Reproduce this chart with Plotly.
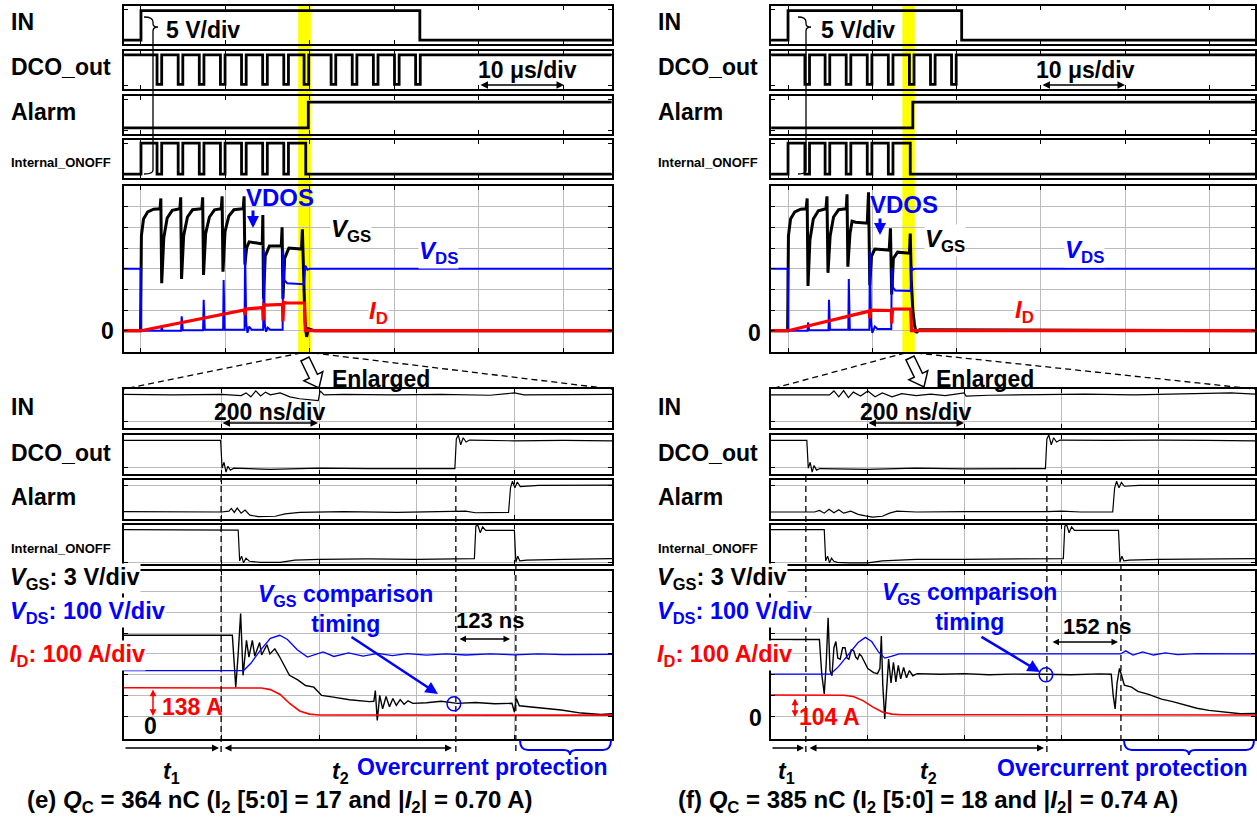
import math
import plotly.graph_objects as go

W, H = 1257, 819
FONT = "Liberation Sans, Arial, sans-serif"
BLACK, BLUE, RED, YELLOW, GRID = "#000000", "#0000ff", "#ff0000", "#ffff00", "#bcbcbc"

# ======================= DATA =======================
channels = ["IN", "DCO_out", "Alarm", "Internal_ONOFF"]

# ---------- panel (e), 10 us/div (time in us; digital in box fraction, analog in div) ----------
e_top_in_t = [-2.0, 0.0, 33.0, 55.7]
e_top_in_v = [0.10, 0.88, 0.10, 0.10]
e_top_dco_t = [-2.0, 1.9, 2.45, 4.4, 4.95, 6.9, 7.45, 9.4, 9.95, 11.9, 12.45, 14.4, 14.95, 16.9, 17.45,
               19.3, 19.85, 22.5, 23.05, 25.0, 25.55, 27.5, 28.05, 30.0, 30.55, 32.5, 33.05, 55.7]
e_top_dco_v = [0.90, 0.12, 0.90, 0.12, 0.90, 0.12, 0.90, 0.12, 0.90, 0.12, 0.90, 0.12, 0.90, 0.12, 0.90,
               0.12, 0.90, 0.12, 0.90, 0.12, 0.90, 0.12, 0.90, 0.12, 0.90, 0.12, 0.90, 0.90]
e_top_alarm_t = [-2.0, 19.8, 55.7]
e_top_alarm_v = [0.16, 0.84, 0.84]
e_top_int_t = [-2.0, 0.0, 1.9, 2.45, 4.4, 4.95, 6.9, 7.45, 9.4, 9.95, 11.9, 12.45, 14.4, 14.95, 16.9, 17.45, 19.5, 55.7]
e_top_int_v = [0.10, 0.92, 0.10, 0.92, 0.10, 0.92, 0.10, 0.92, 0.10, 0.92, 0.10, 0.92, 0.10, 0.92, 0.10, 0.92, 0.10, 0.10]
e_top_vgs_t = [-2.0, -0.05, 0.05, 0.3, 0.8, 1.5, 2.25, 2.35, 2.45, 2.7, 3.1, 3.7, 4.6, 4.7, 4.8, 5.05, 5.5, 6.1,
               7.2, 7.3, 7.4, 7.65, 8.1, 8.7, 9.5, 9.6, 9.7, 9.95, 10.4, 11.0, 12.1, 12.2, 12.3, 12.5, 12.8, 13.5,
               14.35, 14.42, 14.5, 14.7, 15.2, 16.6, 16.7, 16.8, 17.0, 17.5, 19.0, 19.1, 19.25, 19.4, 19.6, 19.8,
               20.5, 55.7]
e_top_vgs_v = [0.0, 0.0, 4.6, 5.4, 5.75, 5.88, 5.9, 6.4, 2.3, 4.5, 5.45, 5.82, 5.9, 6.45, 2.5, 4.6, 5.5, 5.85,
               5.9, 6.45, 2.7, 4.7, 5.5, 5.85, 5.9, 6.5, 2.85, 4.8, 5.55, 5.85, 5.9, 6.5, 3.2, 4.0, 4.3, 4.25,
               4.2, 5.6, 1.55, 3.6, 4.1, 4.1, 5.0, 1.55, 3.5, 4.0, 3.95, 4.9, 3.0, 0.5, -0.3, 0.1,
               0.0, 0.0]
e_top_vds_t = [-2.0, -0.03, 0.03, 2.4, 2.45, 2.55, 4.75, 4.82, 4.95, 7.35, 7.42, 7.55, 9.72, 9.78, 9.9,
               12.26, 12.32, 12.45, 12.6, 12.8, 13.1, 14.46, 14.52, 14.65, 14.8, 15.0, 15.3, 16.76, 16.82,
               16.95, 17.3, 19.3, 19.45, 19.7, 20.0, 55.7]
e_top_vds_v = [3.0, 3.0, 0.0, 0.0, 0.2, 0.0, 0.0, 0.7, 0.02, 0.02, 1.5, 0.05, 0.05, 2.45, 0.05,
               0.05, 4.0, 0.4, -0.1, 0.2, 0.05, 0.05, 3.9, 0.3, -0.05, 0.15, 0.05, 0.05, 3.9,
               2.45, 2.3, 2.25, 3.15, 2.95, 3.0, 3.0]
e_top_id_t = [-2.0, 0.0, 12.25, 12.3, 12.4, 14.4, 14.45, 14.55, 14.8, 16.75, 16.8, 16.9, 17.2, 19.35, 19.45, 55.7]
e_top_id_v = [0.0, 0.0, 1.0, 0.75, 1.05, 1.12, 0.5, 1.28, 1.24, 1.27, 0.45, 1.38, 1.34, 1.34, 0.0, 0.0]

# ---------- panel (e), 200 ns/div (time in ns) ----------
e_bot_in_t = [0, 100, 200, 240, 250, 260, 270, 280, 290, 300, 320, 340, 360, 385, 398, 402, 410, 450, 550, 650,
              750, 800, 820, 1000]
e_bot_in_v = [0.86, 0.85, 0.86, 0.83, 0.9, 0.8, 0.95, 0.82, 0.92, 0.85, 0.9, 0.8, 0.75, 0.72, 0.7, 0.95, 0.85,
              0.86, 0.85, 0.86, 0.84, 0.9, 0.85, 0.86]
e_bot_dco_t = [0, 198, 201, 205, 209, 213, 218, 225, 300, 400, 500, 600, 678, 681, 685, 690, 695, 701, 708,
               800, 900, 1000]
e_bot_dco_v = [0.86, 0.86, 0.15, 0.3, 0.05, 0.2, 0.1, 0.15, 0.12, 0.15, 0.14, 0.13, 0.14, 0.9, 1.0, 0.75,
               0.93, 0.82, 0.87, 0.85, 0.86, 0.85]
e_bot_alarm_t = [0, 200, 215, 220, 226, 232, 240, 248, 258, 275, 310, 330, 360, 450, 560, 650, 683, 700, 720,
                 788, 792, 796, 801, 806, 812, 850, 1000]
e_bot_alarm_v = [0.19, 0.18, 0.2, 0.27, 0.17, 0.28, 0.15, 0.23, 0.1, 0.06, 0.07, 0.13, 0.17, 0.19, 0.17, 0.19,
                 0.2, 0.2, 0.16, 0.17, 0.8, 0.97, 0.8, 0.95, 0.83, 0.86, 0.87]
e_bot_int_t = [0, 200, 234, 237, 241, 245, 250, 257, 280, 320, 350, 400, 500, 600, 700, 718, 721, 725, 730,
               735, 741, 800, 803, 807, 811, 825, 900, 1000]
e_bot_int_v = [0.88, 0.88, 0.87, 0.08, 0.2, 0.03, 0.15, 0.07, 0.04, 0.04, 0.1, 0.12, 0.13, 0.12, 0.13, 0.14,
               0.97, 1.0, 0.8, 0.95, 0.86, 0.86, 0.05, 0.2, 0.08, 0.1, 0.12, 0.14]
e_bot_vgs_t = [0, 222, 226, 229, 234, 239, 244, 251, 256, 263, 268, 278, 282, 293, 299, 309, 318, 327, 339,
               356, 372, 389, 405, 429, 462, 503, 512, 515, 519, 524, 530, 537, 544, 551, 558, 566, 574, 582,
               592, 620, 650, 683, 720, 760, 795, 800, 804, 810, 830, 855, 896, 937, 978, 1000]
e_bot_vgs_v = [3.9, 3.9, 2.5, 1.4, 3.0, 4.95, 1.97, 3.66, 2.85, 3.66, 2.9, 3.55, 2.95, 3.45, 3.0, 3.25, 2.9,
               2.5, 1.97, 1.75, 1.48, 1.4, 1.0, 0.92, 0.79, 0.7, 0.72, 1.24, -0.2, 1.0, 0.35, 0.95, 0.45,
               0.85, 0.52, 0.8, 0.58, 0.74, 0.62, 0.65, 0.72, 0.62, 0.66, 0.6, 0.62, 0.2, 0.85, 0.5, 0.45,
               0.42, 0.3, 0.15, 0.08, 0.12]
e_bot_vds_t = [0, 245, 260, 280, 300, 319, 335, 355, 376, 395, 408, 430, 460, 490, 520, 550, 580, 620, 660,
               700, 750, 800, 850, 900, 1000]
e_bot_vds_v = [2.2, 2.2, 2.55, 3.2, 3.75, 3.9, 3.7, 3.2, 2.85, 3.0, 3.1, 2.88, 3.05, 2.9, 3.03, 2.92, 3.02,
               2.94, 3.0, 2.95, 3.0, 2.96, 3.0, 2.97, 2.98]
e_bot_id_t = [0, 282, 300, 320, 340, 360, 380, 400, 1000]
e_bot_id_v = [1.37, 1.36, 1.28, 1.05, 0.6, 0.25, 0.1, 0.06, 0.05]

# ---------- panel (f), 10 us/div ----------
f_top_in_t = [-2.0, 0.0, 20.6, 55.4]
f_top_in_v = [0.10, 0.88, 0.10, 0.10]
f_top_dco_t = [-2.0, 2.0, 2.55, 4.4, 4.95, 6.9, 7.45, 9.4, 9.95, 11.9, 12.45, 14.4, 14.95, 16.9, 17.45,
               19.4, 19.95, 55.4]
f_top_dco_v = [0.90, 0.12, 0.90, 0.12, 0.90, 0.12, 0.90, 0.12, 0.90, 0.12, 0.90, 0.12, 0.90, 0.12, 0.90,
               0.12, 0.90, 0.90]
f_top_alarm_t = [-2.0, 14.8, 55.4]
f_top_alarm_v = [0.16, 0.84, 0.84]
f_top_int_t = [-2.0, 0.0, 2.0, 2.55, 4.4, 4.95, 6.9, 7.45, 9.4, 9.95, 11.9, 12.45, 14.5, 55.4]
f_top_int_v = [0.10, 0.92, 0.10, 0.92, 0.10, 0.92, 0.10, 0.92, 0.10, 0.92, 0.10, 0.92, 0.10, 0.10]
f_top_vgs_t = [-2.0, -0.05, 0.05, 0.3, 0.8, 1.5, 2.15, 2.27, 2.37, 2.6, 3.0, 3.6, 4.5, 4.62, 4.74, 5.0, 5.4,
               6.0, 6.9, 7.0, 7.1, 7.35, 7.6, 8.0, 9.4, 9.55, 9.7, 9.9, 10.3, 12.0, 12.15, 12.3, 12.5, 13.0,
               14.4, 14.5, 14.62, 14.8, 15.0, 15.2, 15.6, 55.4]
f_top_vgs_v = [0.0, 0.0, 4.6, 5.4, 5.75, 5.88, 5.9, 6.4, 2.16, 4.4, 5.4, 5.8, 5.9, 6.5, 2.8, 4.6, 5.5,
               5.85, 5.9, 6.6, 3.1, 4.7, 5.3, 5.25, 5.2, 6.7, 2.2, 3.6, 3.95, 3.9, 4.95, 1.75, 3.5, 3.8,
               3.75, 4.7, 2.5, 1.0, 0.3, -0.1, 0.05, 0.0]
f_top_vds_t = [-2.0, -0.03, 0.03, 2.32, 2.38, 2.5, 4.8, 4.86, 4.98, 7.15, 7.21, 7.33, 9.65, 9.71, 9.85, 10.0,
               10.3, 10.6, 12.25, 12.3, 12.45, 12.7, 14.55, 14.62, 14.8, 15.1, 55.4]
f_top_vds_v = [3.0, 3.0, 0.0, 0.0, 0.4, 0.02, 0.02, 1.5, 0.05, 0.05, 2.5, 0.05, 0.05, 3.85, 0.4, -0.1,
               0.2, 0.08, 0.08, 3.0, 2.1, 1.95, 1.92, 3.1, 2.95, 3.0, 3.0]
f_top_id_t = [-2.0, 0.0, 9.65, 9.7, 9.8, 12.25, 12.3, 12.4, 14.55, 14.65, 55.4]
f_top_id_v = [0.0, 0.0, 0.95, 0.6, 1.0, 0.98, 0.35, 1.05, 1.05, 0.0, 0.0]

# ---------- panel (f), 200 ns/div ----------
f_bot_in_t = [0, 100, 121, 130, 140, 150, 160, 170, 185, 200, 215, 230, 250, 270, 300, 330, 360, 399, 403,
              450, 550, 650, 750, 850, 950, 1000]
f_bot_in_v = [0.85, 0.86, 0.85, 0.95, 0.8, 0.96, 0.78, 0.92, 0.82, 0.95, 0.8, 0.9, 0.8, 0.88, 0.83, 0.87,
              0.83, 0.9, 0.82, 0.84, 0.86, 0.87, 0.85, 0.88, 0.9, 0.87]
f_bot_dco_t = [0, 74, 77, 81, 85, 89, 94, 101, 200, 300, 400, 500, 567, 570, 574, 579, 584, 590, 597, 700,
               800, 900, 1000]
f_bot_dco_v = [0.86, 0.86, 0.15, 0.3, 0.05, 0.22, 0.1, 0.14, 0.12, 0.15, 0.13, 0.14, 0.14, 0.9, 1.0, 0.75,
               0.93, 0.82, 0.87, 0.86, 0.87, 0.86, 0.85]
f_bot_alarm_t = [0, 90, 100, 110, 120, 130, 140, 150, 165, 180, 195, 210, 230, 245, 260, 300, 400, 500, 570,
                 600, 640, 706, 710, 714, 719, 724, 730, 760, 1000]
f_bot_alarm_v = [0.18, 0.18, 0.22, 0.15, 0.25, 0.16, 0.24, 0.15, 0.2, 0.12, 0.08, 0.05, 0.07, 0.15, 0.2,
                 0.18, 0.19, 0.18, 0.19, 0.2, 0.18, 0.18, 0.8, 0.97, 0.8, 0.94, 0.84, 0.86, 0.86]
f_bot_int_t = [0, 110, 113, 117, 121, 125, 130, 137, 160, 200, 230, 260, 300, 400, 500, 604, 607, 611, 616,
               621, 627, 718, 721, 725, 729, 740, 800, 900, 1000]
f_bot_int_v = [0.88, 0.88, 0.08, 0.2, 0.03, 0.15, 0.07, 0.04, 0.03, 0.03, 0.08, 0.1, 0.12, 0.12, 0.13, 0.14,
               0.97, 1.0, 0.8, 0.95, 0.86, 0.86, 0.05, 0.2, 0.08, 0.1, 0.12, 0.13, 0.14]
f_bot_vgs_t = [0, 100, 105, 110, 114, 118, 122, 126, 130, 134, 138, 143, 148, 153, 157, 161, 166, 171, 175,
               179, 183, 187, 200, 212, 220, 225, 228, 231, 235, 239, 243, 248, 253, 258, 263, 268, 274, 280,
               286, 293, 302, 350, 400, 450, 500, 567, 620, 680, 703, 707, 711, 715, 720, 724, 730, 745, 758,
               780, 807, 830, 856, 880, 905, 940, 970, 1000]
f_bot_vgs_v = [3.7, 3.7, 2.0, 1.07, 2.5, 4.75, 2.2, 1.95, 3.3, 3.6, 2.8, 2.75, 3.3, 3.3, 2.8, 2.75, 3.2, 3.15,
               2.85, 2.75, 3.0, 2.9, 2.3, 2.1, 2.05, 2.3, 3.87, 1.5, -0.13, 1.2, 2.75, 1.6, 2.6, 1.65, 2.45,
               1.8, 2.35, 1.85, 2.2, 1.95, 2.05, 2.02, 2.05, 2.0, 2.03, 2.02, 2.0, 2.04, 2.02, 1.0, 0.35, 1.6,
               2.3, 2.0, 1.5, 1.4, 1.2, 1.05, 0.82, 0.7, 0.52, 0.38, 0.28, 0.18, 0.12, 0.13]
f_bot_vds_t = [0, 123, 140, 160, 180, 195, 208, 222, 235, 250, 265, 300, 400, 500, 600, 700, 722, 733, 748,
               768, 790, 815, 840, 880, 1000]
f_bot_vds_v = [2.03, 2.03, 2.4, 3.0, 3.55, 3.8, 3.6, 3.1, 2.8, 2.9, 3.0, 3.0, 3.0, 3.0, 3.0, 3.0, 3.0, 3.15,
               2.95, 3.1, 2.95, 3.05, 2.97, 3.02, 3.0]
f_bot_id_t = [0, 150, 170, 190, 210, 230, 250, 270, 1000]
f_bot_id_v = [1.02, 1.01, 0.95, 0.75, 0.45, 0.2, 0.1, 0.07, 0.06]

# markers / annotations values
e_band = [18.6, 20.1]          # yellow band (us)
f_band = [13.56, 15.03]
e_marks = [199, 680, 803]      # dashed timing lines (ns)
f_marks = [72, 570, 723]
e_circle = [676, 0.6]          # VGS comparison point (ns, div)
f_circle = [568, 2.0]
e_caption = "(e) <i>Q</i><sub>C</sub> = 364 nC (I<sub>2</sub> [5:0] = 17 and |<i>I</i><sub>2</sub>| = 0.70 A)"
f_caption = "(f) <i>Q</i><sub>C</sub> = 385 nC (I<sub>2</sub> [5:0] = 18 and |<i>I</i><sub>2</sub>| = 0.74 A)"
e_delay = "123 ns"
f_delay = "152 ns"
e_current = "138 A"
f_current = "104 A"

# ======================= FIGURE =======================
fig = go.Figure()
layout = {}
n_axes = [0]


def fx(p):
    return p / W


def fy(p):
    return 1 - p / H


def make_axes(x0, x1, ytop, ybot, xr, yr, xticks, yticks, xgrid, ygrid):
    n_axes[0] += 1
    i = n_axes[0]
    s = "" if i == 1 else str(i)
    base = dict(showline=True, linecolor=BLACK, linewidth=1.6, mirror="allticks", ticks="inside",
                ticklen=4, tickwidth=1, tickcolor=BLACK, showticklabels=False, zeroline=False,
                fixedrange=True, gridcolor=GRID, gridwidth=1)
    layout["xaxis" + s] = dict(base, domain=[fx(x0), fx(x1)], range=xr, tickvals=xticks,
                               showgrid=xgrid, anchor="y" + s)
    layout["yaxis" + s] = dict(base, domain=[fy(ybot), fy(ytop)], range=yr, tickvals=yticks,
                               showgrid=ygrid, anchor="x" + s)
    return ("x" + s, "y" + s)


def add_line(ax, t, v, color, width, shape="linear"):
    fig.add_trace(go.Scatter(x=t, y=v, mode="lines", line=dict(color=color, width=width, shape=shape),
                             xaxis=ax[0], yaxis=ax[1], hoverinfo="skip", showlegend=False))


def txt(x, y, s, size=23, color=BLACK, xanchor="center", bg=None, bold=True):
    fig.add_annotation(x=fx(x), y=fy(y), xref="paper", yref="paper",
                       text=("<b>%s</b>" % s) if bold else s, showarrow=False,
                       xanchor=xanchor, yanchor="middle",
                       font=dict(family=FONT, size=size, color=color),
                       bgcolor=bg, borderpad=0)


def arr(x0, y0, x1, y1, color=BLACK, width=1.5, both=False, head=2, size=1.0):
    fig.add_annotation(x=fx(x1), y=fy(y1), xref="paper", yref="paper",
                       ax=x0 - x1, ay=y0 - y1, axref="pixel", ayref="pixel", text="",
                       showarrow=True, arrowhead=head, startarrowhead=head,
                       arrowside="end+start" if both else "end", arrowwidth=width,
                       arrowcolor=color, arrowsize=size, startarrowsize=size,
                       standoff=0, startstandoff=0)


def pline(x0, y0, x1, y1, color=BLACK, width=1.3, dash="6px,4px"):
    fig.add_shape(type="line", xref="paper", yref="paper", x0=fx(x0), y0=fy(y0), x1=fx(x1), y1=fy(y1),
                  line=dict(color=color, width=width, dash=dash))


def P(x, y):
    return "%.5f,%.5f" % (fx(x), fy(y))


def ppath(d, color=BLACK, width=1.5, fill=None):
    fig.add_shape(type="path", xref="paper", yref="paper", path=d,
                  line=dict(color=color, width=width), fillcolor=fill)


DATA = {
    "e": dict(top=[(e_top_in_t, e_top_in_v), (e_top_dco_t, e_top_dco_v), (e_top_alarm_t, e_top_alarm_v),
                   (e_top_int_t, e_top_int_v)],
              top_an=[(e_top_vgs_t, e_top_vgs_v), (e_top_vds_t, e_top_vds_v), (e_top_id_t, e_top_id_v)],
              bot=[(e_bot_in_t, e_bot_in_v), (e_bot_dco_t, e_bot_dco_v), (e_bot_alarm_t, e_bot_alarm_v),
                   (e_bot_int_t, e_bot_int_v)],
              bot_an=[(e_bot_vgs_t, e_bot_vgs_v), (e_bot_vds_t, e_bot_vds_v), (e_bot_id_t, e_bot_id_v)],
              band=e_band, marks=e_marks, circle=e_circle, trange=[-2.01, 55.74], cols=(124, 612),
              lab_x=10),
    "f": dict(top=[(f_top_in_t, f_top_in_v), (f_top_dco_t, f_top_dco_v), (f_top_alarm_t, f_top_alarm_v),
                   (f_top_int_t, f_top_int_v)],
              top_an=[(f_top_vgs_t, f_top_vgs_v), (f_top_vds_t, f_top_vds_v), (f_top_id_t, f_top_id_v)],
              bot=[(f_bot_in_t, f_bot_in_v), (f_bot_dco_t, f_bot_dco_v), (f_bot_alarm_t, f_bot_alarm_v),
                   (f_bot_int_t, f_bot_int_v)],
              bot_an=[(f_bot_vgs_t, f_bot_vgs_v), (f_bot_vds_t, f_bot_vds_v), (f_bot_id_t, f_bot_id_v)],
              band=f_band, marks=f_marks, circle=f_circle, trange=[-2.02, 55.4], cols=(771, 1255),
              lab_x=657),
}

rows_top = [(6, 44), (51, 89), (96, 134), (140, 178)]
row_top_an = (186, 352)
rows_bot = [(389, 428), (435, 474), (480, 519), (525, 564)]
row_bot_an = (571, 739)
bot_grid = [[0.16], [0.16], [0.87], [0.05]]
top_ticks = [0, 10, 20, 30, 40, 50]
bot_ticks = [200, 400, 600, 800]

for p, d in DATA.items():
    X0, X1 = d["cols"]
    tops = [make_axes(X0, X1, a, b, d["trange"], [0, 1], top_ticks, [0.1, 0.9], False, False)
            for (a, b) in rows_top]
    tan = make_axes(X0, X1, row_top_an[0], row_top_an[1], d["trange"], [-1.03, 7.0], top_ticks,
                    [0, 1, 2, 3, 4, 5, 6], True, True)
    bots = [make_axes(X0, X1, a, b, [0, 1000], [0, 1], bot_ticks, g, True, True)
            for (a, b), g in zip(rows_bot, bot_grid)]
    ban = make_axes(X0, X1, row_bot_an[0], row_bot_an[1], [0, 1000], [-1.1, 7.0], bot_ticks,
                    [0, 1, 2, 3, 4, 5, 6], True, True)

    for ax, (t, v) in zip(tops, d["top"]):
        add_line(ax, t, v, BLACK, 2.8, "hv")
    (gt, gv), (dt, dv), (it, iv) = d["top_an"]
    add_line(tan, gt, gv, BLACK, 3.0)
    add_line(tan, dt, dv, BLUE, 2.0)
    add_line(tan, it, iv, RED, 3.2)
    for ax, (t, v) in zip(bots, d["bot"]):
        add_line(ax, t, v, BLACK, 1.2)
    (gt, gv), (dt, dv), (it, iv) = d["bot_an"]
    add_line(ban, gt, gv, BLACK, 1.4)
    add_line(ban, dt, dv, BLUE, 1.3)
    add_line(ban, it, iv, RED, 1.6)

    # yellow band
    fig.add_shape(type="rect", xref=tan[0], yref="paper", x0=d["band"][0], x1=d["band"][1],
                  y0=fy(353), y1=fy(5), fillcolor=YELLOW, line_width=0, layer="below")
    # dashed timing lines
    starts = [476, 476, 565]
    for t, ys in zip(d["marks"], starts):
        fig.add_shape(type="line", xref=ban[0], yref="paper", x0=t, x1=t, y0=fy(ys), y1=fy(753),
                      line=dict(color=BLACK, width=1.3, dash="6px,4px"))
    # comparison circle
    cx, cy = d["circle"]
    fig.add_shape(type="circle", xref=ban[0], yref=ban[1], x0=cx - 14, x1=cx + 14, y0=cy - 0.34,
                  y1=cy + 0.34, line=dict(color=BLUE, width=1.5))

    # channel labels
    lx = d["lab_x"]
    for name, (a, b) in zip(channels, rows_top):
        small = name == "Internal_ONOFF"
        txt(lx, (a + b) / 2 + (4 if small else -3), name, size=13 if small else 23, xanchor="left")
    for name, (a, b) in zip(channels, rows_bot):
        small = name == "Internal_ONOFF"
        txt(lx, (a + b) / 2 + (4 if small else -2), name, size=13 if small else 23, xanchor="left")

    # scale legend
    txt(lx - 1, 578, "<i>V</i><sub>GS</sub>: 3 V/div", xanchor="left", bg="white", size=23.5)
    txt(lx - 1, 612, "<i>V</i><sub>DS</sub>: 100 V/div", color=BLUE, xanchor="left", bg="white", size=23.5)
    txt(lx - 1, 655, "<i>I</i><sub>D</sub>: 100 A/div", color=RED, xanchor="left", bg="white", size=23.5)

# ---------------- per-panel annotations (pixel positions) ----------------
# panel (e)
txt(203, 30, "5 V/div")
ppath("M" + P(144, 17) + " Q" + P(153, 17) + " " + P(153, 22) + " L" + P(153, 24) + " Q" + P(153, 27) + " " +
      P(158, 27) + " Q" + P(153, 27) + " " + P(153, 31) + " L" + P(153, 170) + " Q" + P(153, 174) + " " +
      P(144, 174), width=1.3)
txt(527, 70, "10 μs/div")
arr(479, 85, 564, 85, both=True, width=1.5)
txt(280, 197, "VDOS", color=BLUE, size=24)
arr(253, 209, 253, 228, color=BLUE, width=3, head=2, size=0.8)
txt(351, 230, "<i>V</i><sub>GS</sub>", bg="white", size=24)
txt(438, 252, "<i>V</i><sub>DS</sub>", color=BLUE, bg="white", size=24)
txt(378, 312, "<i>I</i><sub>D</sub>", color=RED, bg="white", size=24)
txt(108, 331, "0")
txt(381, 379, "Enlarged")
txt(269, 412, "200 ns/div")
arr(221, 423, 318, 423, both=True, width=1.5)
txt(345, 609, "<i>V</i><sub>GS</sub> comparison<br>timing", color=BLUE)
arr(350, 636, 438, 694, color=BLUE, width=2.5, head=2, size=1.0)
txt(490, 620, e_delay, size=22)
arr(458, 639, 510, 639, both=True, width=1.3)
txt(192, 707, e_current, color=RED)
arr(153, 688, 153, 716, color=RED, both=True, width=1.5, size=0.9)
txt(150, 726, "0")
arr(124, 748, 219, 748, width=1.4)
arr(223, 748, 452, 748, both=True, width=1.4)
txt(171, 772, "<i>t</i><sub>1</sub>")
txt(340, 772, "<i>t</i><sub>2</sub>")
txt(482, 767, "Overcurrent protection", color=BLUE)
txt(280, 801, e_caption, size=24)

# panel (f)
txt(858, 30, "5 V/div")
ppath("M" + P(798, 17) + " Q" + P(806, 17) + " " + P(806, 22) + " L" + P(806, 24) + " Q" + P(806, 27) + " " +
      P(811, 27) + " Q" + P(806, 27) + " " + P(806, 31) + " L" + P(806, 170) + " Q" + P(806, 174) + " " +
      P(798, 174), width=1.3)
txt(1085, 70, "10 μs/div")
arr(1041, 85, 1125, 85, both=True, width=1.5)
txt(904, 204, "VDOS", color=BLUE, size=24)
arr(880, 217, 880, 235, color=BLUE, width=3, head=2, size=0.8)
txt(945, 240, "<i>V</i><sub>GS</sub>", bg="white", size=24)
txt(1084, 251, "<i>V</i><sub>DS</sub>", color=BLUE, bg="white", size=24)
txt(1024, 311, "<i>I</i><sub>D</sub>", color=RED, bg="white", size=24)
txt(754, 333, "0")
txt(985, 379, "Enlarged")
txt(915, 412, "200 ns/div")
arr(867, 423, 964, 423, both=True, width=1.5)
txt(969, 607, "<i>V</i><sub>GS</sub> comparison<br>timing", color=BLUE)
arr(980, 636, 1040, 672, color=BLUE, width=2.5, head=2, size=1.0)
txt(1097, 626, f_delay, size=22)
arr(1051, 642, 1118, 642, both=True, width=1.3)
txt(829, 717, f_current, color=RED)
arr(795, 697, 795, 717, color=RED, both=True, width=1.5, size=0.9)
txt(755, 718, "0")
arr(771, 748, 804, 748, width=1.4)
arr(808, 748, 1044, 748, both=True, width=1.4)
txt(786, 772, "<i>t</i><sub>1</sub>")
txt(928, 772, "<i>t</i><sub>2</sub>")
txt(1122, 768, "Overcurrent protection", color=BLUE)
txt(928, 801, f_caption, size=24)

# enlarge guide lines
pline(301, 353, 124, 389)
pline(313, 353, 612, 389)
pline(905, 353, 771, 389)
pline(916, 353, 1255, 389)


# hollow "Enlarged" arrows
def hollow_arrow(tx, ty, hx, hy):
    L = math.hypot(hx - tx, hy - ty)
    ux, uy = (hx - tx) / L, (hy - ty) / L
    nx, ny = uy, -ux
    hw, HW, HL = 4.5, 10.5, 13
    bx, by = tx + ux * (L - HL), ty + uy * (L - HL)
    pts = [(tx + nx * hw, ty + ny * hw), (bx + nx * hw, by + ny * hw), (bx + nx * HW, by + ny * HW),
           (hx, hy), (bx - nx * HW, by - ny * HW), (bx - nx * hw, by - ny * hw), (tx - nx * hw, ty - ny * hw)]
    d = "M" + " L".join(P(x, y) for x, y in pts) + " Z"
    ppath(d, width=1.5, fill="white")


hollow_arrow(305, 359, 319, 388)
hollow_arrow(910, 358, 924, 387)


# braces for overcurrent protection
def brace(x0, x1, xc):
    d = ("M" + P(x0, 740) + " Q" + P(x0, 750) + " " + P(x0 + 8, 750) + " L" + P(xc - 6, 750) +
         " Q" + P(xc, 750) + " " + P(xc, 755) + " Q" + P(xc, 750) + " " + P(xc + 6, 750) +
         " L" + P(x1 - 8, 750) + " Q" + P(x1, 750) + " " + P(x1, 740))
    ppath(d, color=BLUE, width=2)


brace(520, 611, 570)
brace(1124, 1254, 1189)

layout.update(width=W, height=H, margin=dict(l=0, r=0, t=0, b=0), autosize=False,
              paper_bgcolor="white", plot_bgcolor="rgba(0,0,0,0)", showlegend=False)
fig.update_layout(**layout)

fig.write_html("out.html", config={"displayModeBar": False},
               post_script="document.body.style.margin='0px';")
